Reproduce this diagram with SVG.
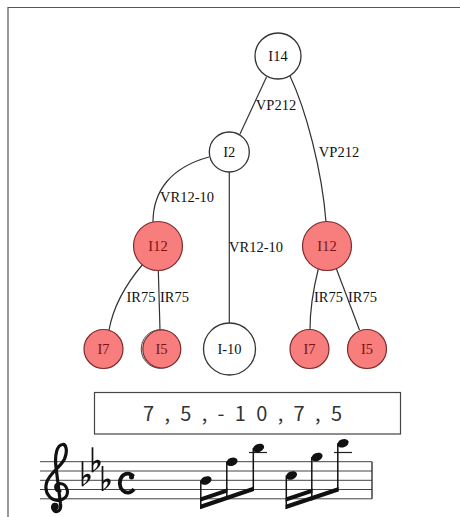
<svg xmlns="http://www.w3.org/2000/svg" width="460" height="517" viewBox="0 0 460 517">
  <style>
    .edge { fill: none; stroke: #333; stroke-width: 1.2; }
    .plain circle { fill: #fff; stroke: #333; stroke-width: 1.3; }
    .hot circle { fill: #f87d7d; stroke: #7d2b2b; stroke-width: 1.2; }
    .nlabel { font-family: "Liberation Serif", "Times New Roman", serif; font-size: 14.5px; text-anchor: middle; }
    .plain text { fill: #111; }
    .hot text { fill: #7a1414; }
    .elabel { font-family: "Liberation Serif", "Times New Roman", serif; font-size: 14.5px; text-anchor: middle; fill: #111; }
    .staff line { stroke: #444; stroke-width: 1; }
    .ink { fill: #111; stroke: none; }
    .stem { stroke: #111; stroke-width: 1.5; }
  </style>
  <defs>
    <!-- flat sign, origin at the centre of its bowl -->
    <g id="flat">
      <line x1="0" y1="-19" x2="0" y2="6" stroke="#111" stroke-width="1.7"/>
      <path d="M0,6 C5,3 9,-1 8,-4.5 C7,-8 2,-7 0,-2.5 L0,0 C2,-4 5.2,-4.5 5.2,-2 C5.2,0.5 2.5,3.5 0,4.5 Z" fill="#111"/>
    </g>
    <ellipse id="head" cx="0" cy="0" rx="5.8" ry="4" transform="rotate(-22)" fill="#111"/>
  </defs>

  <!-- frame -->
  <path d="M8,517 L8,7.5 L460,7.5" fill="none" stroke="#555" stroke-width="1.2"/>

  <!-- connectors -->
  <g id="edges">
    <path class="edge" d="M266.5,77 L240,134"/>
    <path class="edge" d="M290,76 C306,110 322,170 326,222"/>
    <path class="edge" d="M209,157 C172,167 153,190 153,222"/>
    <path class="edge" d="M229.3,172 L229.3,323"/>
    <path class="edge" d="M143,264 C126,284 113,308 109,330"/>
    <path class="edge" d="M158.3,270 L160,330"/>
    <path class="edge" d="M318.3,269 C313,290 310,310 310,330"/>
    <path class="edge" d="M335.7,267 L359.5,330"/>
    <text class="elabel" x="276" y="110">VP212</text>
    <text class="elabel" x="339" y="157">VP212</text>
    <text class="elabel" x="187" y="202">VR12-10</text>
    <text class="elabel" x="256" y="252">VR12-10</text>
    <text class="elabel" x="141" y="302">IR75</text>
    <text class="elabel" x="174.5" y="302">IR75</text>
    <text class="elabel" x="328.5" y="302">IR75</text>
    <text class="elabel" x="362.5" y="302">IR75</text>
  </g>

  <!-- nodes -->
  <g id="n-I14" class="plain">
    <circle cx="278" cy="56" r="23"/>
    <text class="nlabel" x="278" y="61">I14</text>
  </g>
  <g id="n-I2" class="plain">
    <circle cx="229.3" cy="152" r="20"/>
    <text class="nlabel" x="229.3" y="157">I2</text>
  </g>
  <g id="n-I12a" class="hot">
    <circle cx="158" cy="246" r="24.5"/>
    <text class="nlabel" x="158" y="251">I12</text>
  </g>
  <g id="n-I12b" class="hot">
    <circle cx="327" cy="246" r="24.5"/>
    <text class="nlabel" x="327" y="251">I12</text>
  </g>
  <g id="n-I7a" class="hot">
    <circle cx="103.5" cy="349" r="19.5"/>
    <text class="nlabel" x="103.5" y="354">I7</text>
  </g>
  <g id="n-I5a" class="hot">
    <circle cx="160.5" cy="349" r="19.3" style="fill:#fff;stroke:#444;stroke-width:1"/>
    <circle cx="161.8" cy="349" r="19"/>
    <text class="nlabel" x="161.5" y="354">I5</text>
  </g>
  <g id="n-I-10" class="plain">
    <circle cx="229.5" cy="349" r="26"/>
    <text class="nlabel" x="229.5" y="354">I-10</text>
  </g>
  <g id="n-I7b" class="hot">
    <circle cx="309.5" cy="349" r="19.5"/>
    <text class="nlabel" x="309.5" y="354">I7</text>
  </g>
  <g id="n-I5b" class="hot">
    <circle cx="367" cy="349" r="19.5"/>
    <text class="nlabel" x="367" y="354">I5</text>
  </g>

  <!-- interval sequence -->
  <g id="sequence">
    <rect x="94.5" y="392.5" width="306" height="41.5" fill="#fff" stroke="#444" stroke-width="1.2"/>
    <text x="242.5" y="421" font-family="'Noto Sans CJK JP', 'Noto Sans', sans-serif" font-size="20" fill="#333" text-anchor="middle" textLength="199" lengthAdjust="spacing">7 , 5 , - 1 0 , 7 , 5</text>
  </g>

  <!-- staff with notes -->
  <g id="score">
    <g class="staff">
      <line x1="40" y1="461.7" x2="372" y2="461.7"/>
      <line x1="40" y1="471" x2="372" y2="471"/>
      <line x1="40" y1="480.3" x2="372" y2="480.3"/>
      <line x1="40" y1="489.5" x2="372" y2="489.5"/>
      <line x1="40" y1="498.8" x2="372" y2="498.8"/>
      <line x1="372" y1="461.7" x2="372" y2="498.8" style="stroke:#222;stroke-width:1.3"/>
      <line x1="249" y1="452.5" x2="267" y2="452.5" style="stroke:#222;stroke-width:1.2"/>
      <line x1="334" y1="452.5" x2="352" y2="452.5" style="stroke:#222;stroke-width:1.2"/>
    </g>

    <!-- treble clef -->
    <path d="M60,491 C55,491 54,484 59,483.5 C68,483 71,496 62,499.5 C51,503 44,493 46.5,483 C49,473 60,468 64.5,459 C68,451 66,444 62.5,444.5 C57,445 54.5,455 56,467 L60.5,504 C62,513 53,514 52.5,507" fill="none" stroke="#111" stroke-width="3.2" stroke-linecap="round"/>
    <circle cx="55" cy="506.5" r="3.8" class="ink"/>

    <!-- key signature: B, E, A flat -->
    <use href="#flat" x="82.5" y="480.3"/>
    <use href="#flat" x="92.5" y="466.3"/>
    <use href="#flat" x="102.5" y="485"/>

    <!-- common time -->
    <path d="M133.5,476.5 A8,9.5 0 1 0 134,489" fill="none" stroke="#111" stroke-width="3.8"/>
    <circle cx="131.5" cy="477" r="2.5" class="ink"/>

    <!-- first group -->
    <use href="#head" x="206" y="480.5"/>
    <use href="#head" x="232" y="461.8"/>
    <use href="#head" x="258.5" y="448"/>
    <line class="stem" x1="200.8" y1="480.5" x2="200.8" y2="509"/>
    <line class="stem" x1="226.8" y1="461.8" x2="226.8" y2="500"/>
    <line class="stem" x1="253.3" y1="448" x2="253.3" y2="491"/>
    <polygon class="ink" points="200.1,509.2 254,491 254,486.5 200.1,504.7"/>
    <polygon class="ink" points="200.1,501.7 227.5,492.5 227.5,488.3 200.1,497.5"/>

    <!-- second group -->
    <use href="#head" x="291.5" y="475.5"/>
    <use href="#head" x="317" y="457"/>
    <use href="#head" x="343" y="443.3"/>
    <line class="stem" x1="286.3" y1="475.5" x2="286.3" y2="509"/>
    <line class="stem" x1="311.8" y1="457" x2="311.8" y2="500.5"/>
    <line class="stem" x1="337.8" y1="443.3" x2="337.8" y2="491.5"/>
    <polygon class="ink" points="285.6,509.2 338.5,491.5 338.5,487 285.6,504.7"/>
    <polygon class="ink" points="285.6,501.7 312.5,492.7 312.5,488.5 285.6,497.5"/>
  </g>
</svg>
